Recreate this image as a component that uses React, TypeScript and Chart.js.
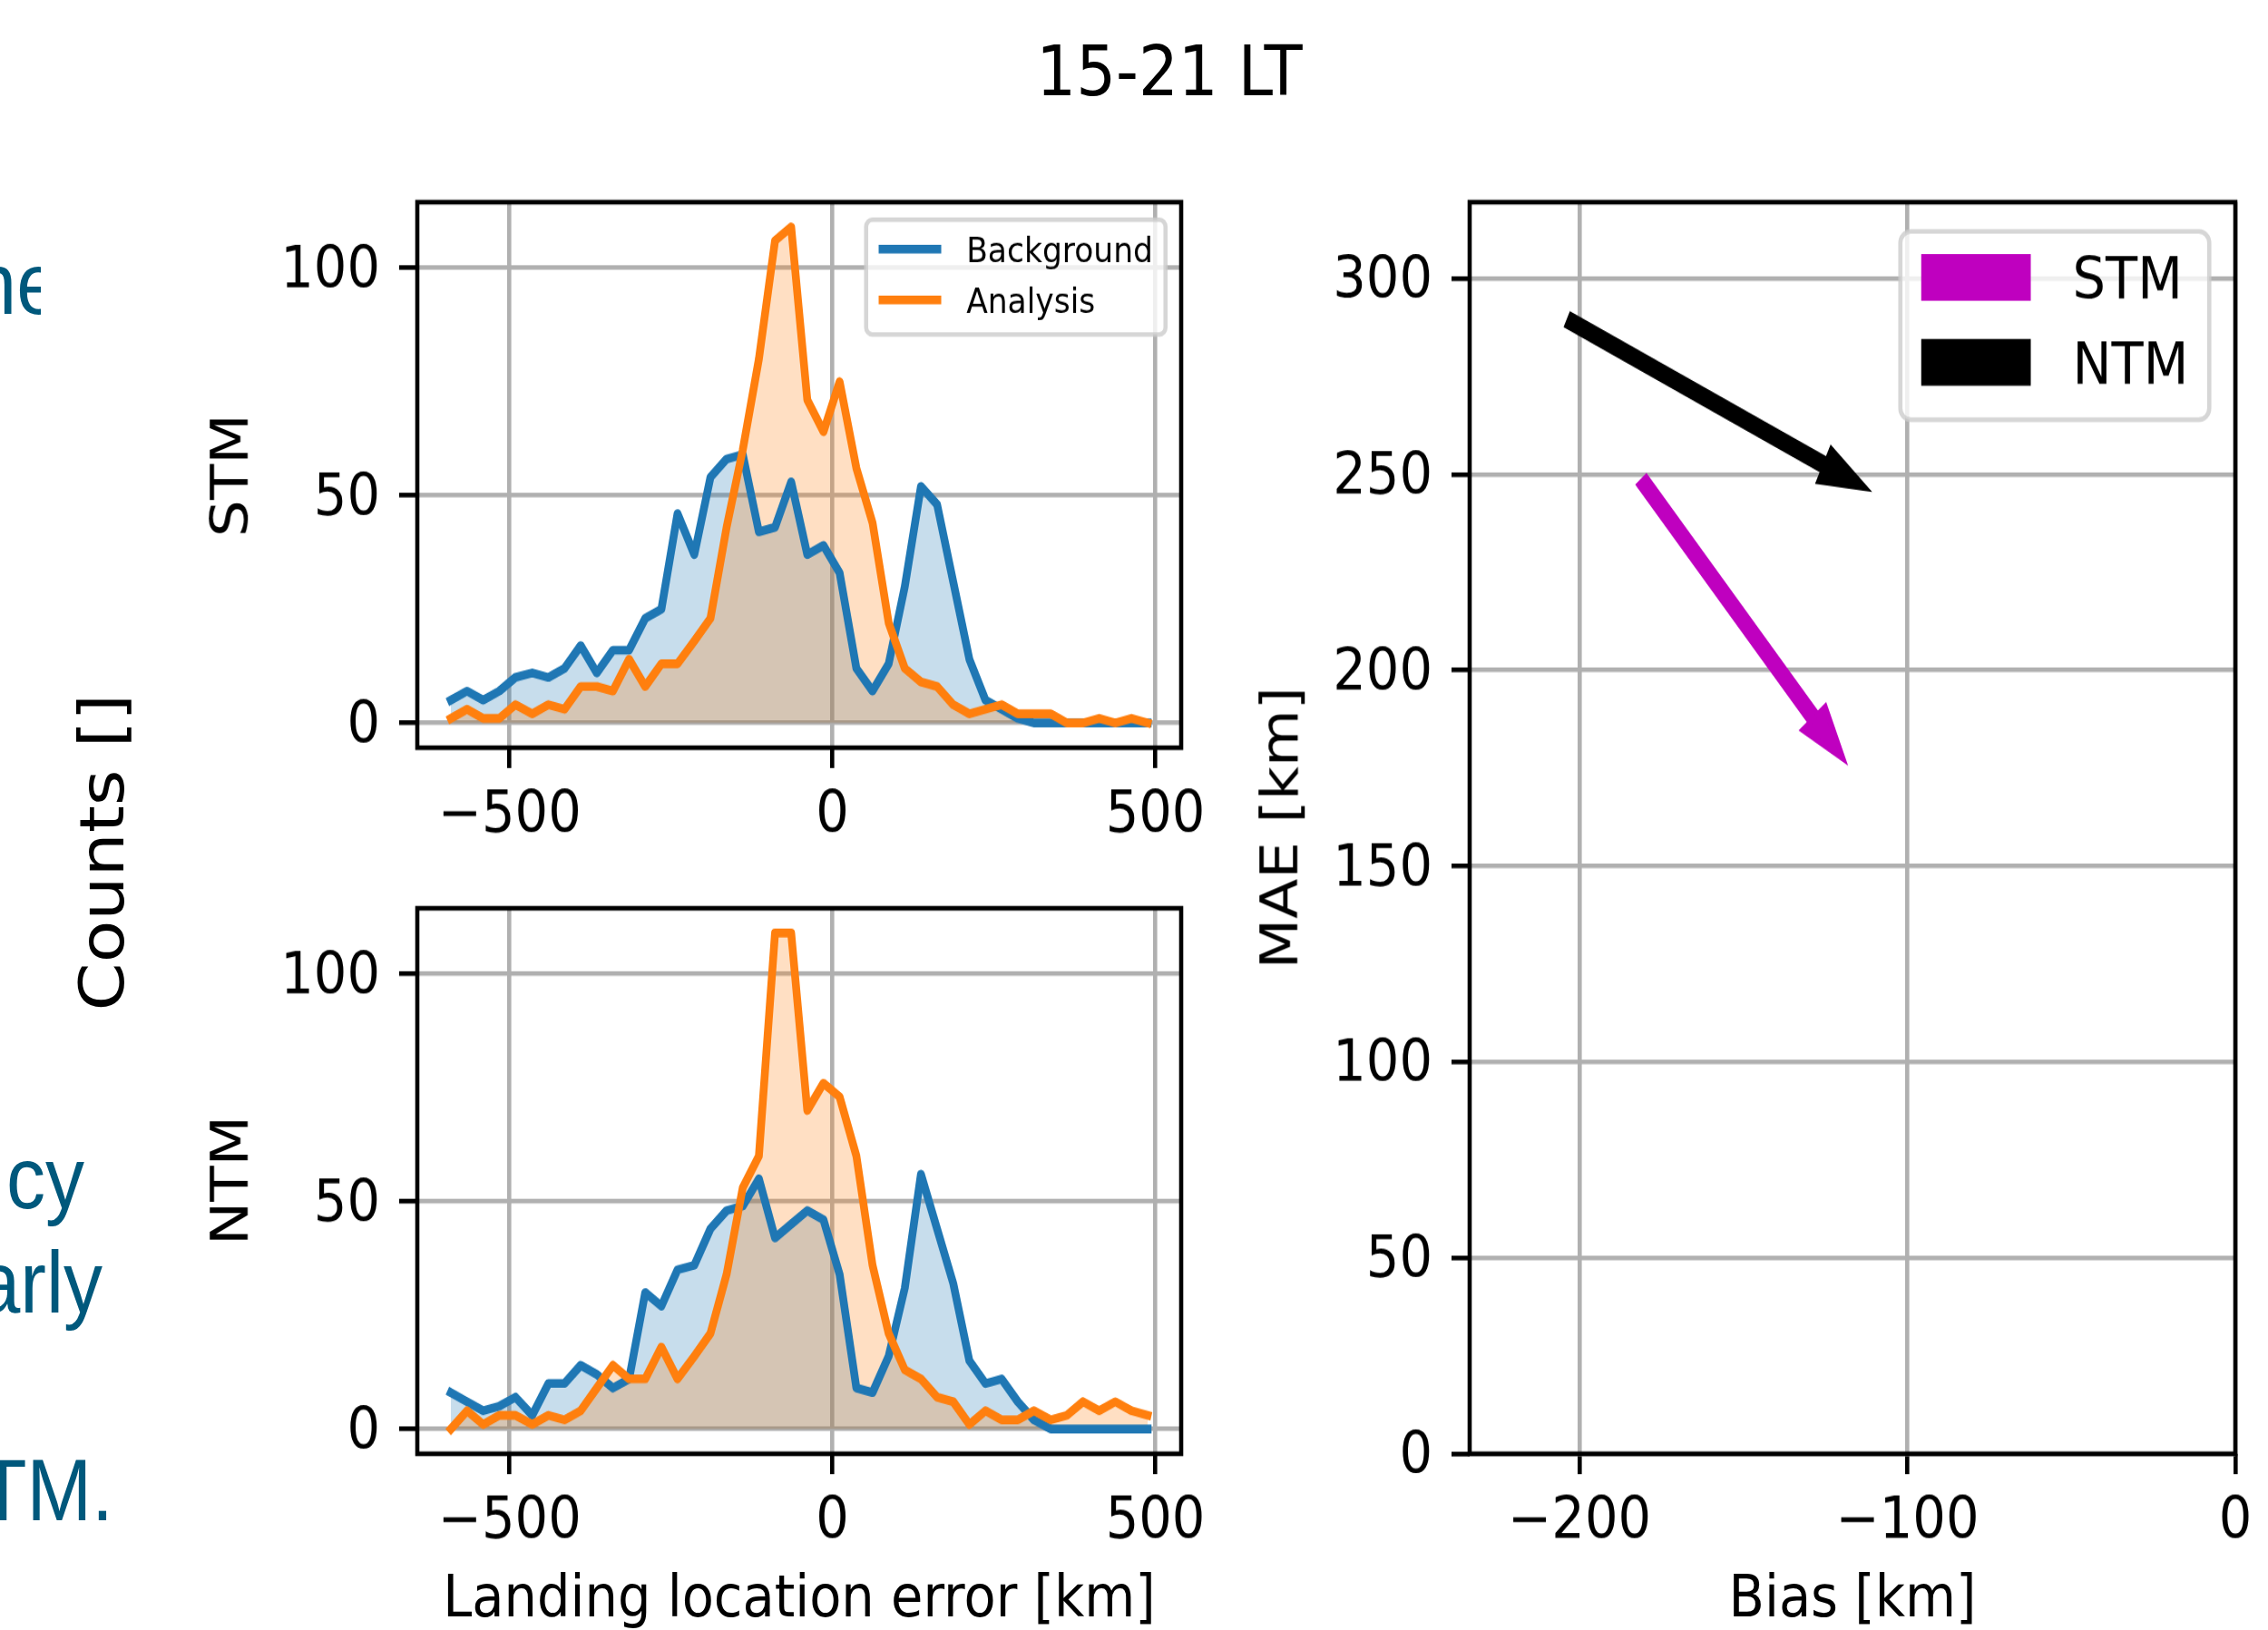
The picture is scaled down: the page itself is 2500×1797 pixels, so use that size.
import React, { useEffect, useRef } from 'react';
import { Chart, registerables } from 'chart.js';

Chart.register(...registerables);

// ---------------- data ----------------
const binCenters = [
  -591, -566, -541, -516, -491, -465, -440, -415, -390, -365, -340, -315, -290, -265, -240,
  -214, -189, -164, -139, -114, -89, -64, -39, -14, 11, 37, 62, 87, 112, 137, 162, 187,
  212, 237, 262, 287, 312, 338, 363, 388, 413, 438, 463, 488,
];
const stmBackground = [
  5, 7, 5, 7, 10, 11, 10, 12, 17, 11, 16, 16, 23, 25, 46, 37, 54, 58, 59, 42, 43, 53, 37, 39,
  33, 12, 7, 13, 30, 52, 48, 31, 14, 5, 3, 1, 0, 0, 0, 0, 0, 0, 0, 0,
];
const stmAnalysis = [
  1, 3, 1, 1, 4, 2, 4, 3, 8, 8, 7, 14, 8, 13, 13, 18, 23, 43, 60, 80, 106, 109, 71, 64, 75,
  56, 44, 22, 12, 9, 8, 4, 2, 3, 4, 2, 2, 2, 0, 0, 1, 0, 1, 0,
];
const ntmBackground = [
  8, 6, 4, 5, 7, 3, 10, 10, 14, 12, 9, 11, 30, 27, 35, 36, 44, 48, 49, 55, 42, 45, 48, 46, 34,
  9, 8, 16, 31, 56, 44, 32, 15, 10, 11, 6, 2, 0, 0, 0, 0, 0, 0, 0,
];
const ntmAnalysis = [
  0, 4, 1, 3, 3, 1, 3, 2, 4, 9, 14, 11, 11, 18, 11, 16, 21, 34, 53, 60, 109, 109, 70, 76, 73,
  60, 36, 21, 13, 11, 7, 6, 1, 4, 2, 2, 4, 2, 3, 6, 4, 6, 4, 3,
];
const histSeriesLabels = ['Background', 'Analysis'];
const histTicksX = [-500, 0, 500];
const histTicksY = [0, 50, 100];

const arrowGroups = ['STM', 'NTM'];
const arrowColors = ['#bf00bf', '#000000'];
const biasBackground = [-180.8, -203.2];
const maeBackground = [248.3, 289.3];
const biasAnalysis = [-128.5, -125.1];
const maeAnalysis = [187.7, 252.3];
const biasTicks = [-200, -100, 0];
const maeTicks = [0, 50, 100, 150, 200, 250, 300];

// ---------------- style ----------------
const S = 1.12; // vertical stretch of the whole figure
const FONT = "'DejaVu Sans'";
const FS = 57.5;
const LW = 4.6;
const GRID = '#b0b0b0';
const BLUE = '#1f77b4';
const ORANGE = '#ff7f0e';
const PAD_TOP = 60;

const fmt = (v: number) => (v < 0 ? '\u2212' + Math.abs(v) : String(v));

const framePlugin = {
  id: 'frame',
  afterDatasetsDraw(chart: any) {
    const { ctx, chartArea } = chart;
    const { left, top, right, bottom } = chartArea;
    ctx.save();
    ctx.strokeStyle = '#000';
    ctx.lineWidth = LW;
    ctx.lineJoin = 'miter';
    ctx.strokeRect(left, top, right - left, bottom - top);
    ctx.restore();
  },
};

function legendPlugin(kind: 'line' | 'patch', fs: number, rowOffsets: number[], boxH: number) {
  return {
    id: 'customLegend',
    afterDraw(chart: any) {
      const { ctx, chartArea } = chart;
      const ds = chart.data.datasets;
      ctx.save();
      ctx.font = `${fs}px ${FONT}`;
      const pad = 0.4 * fs;
      const handleLen = 2 * fs;
      const textPad = 0.8 * fs;
      const extra = kind === 'patch' ? 5.75 : 0;
      const textW = Math.max(...ds.map((d: any) => ctx.measureText(d.label).width));
      const w = 2 * pad + handleLen + extra + textPad + textW;
      const right = chartArea.right - 0.5 * fs;
      const top = chartArea.top + 0.5 * fs;
      const left = right - w;
      ctx.beginPath();
      (ctx as any).roundRect(left, top, w, boxH, 0.2 * fs);
      ctx.fillStyle = 'rgba(255,255,255,0.8)';
      ctx.fill();
      ctx.lineWidth = LW;
      ctx.strokeStyle = 'rgba(204,204,204,0.8)';
      ctx.stroke();
      ds.forEach((d: any, i: number) => {
        const cy = top + rowOffsets[i];
        const hx = left + pad;
        if (kind === 'line') {
          ctx.beginPath();
          ctx.moveTo(hx + 4.3, cy);
          ctx.lineTo(hx + handleLen - 4.3, cy);
          ctx.strokeStyle = d.borderColor;
          ctx.lineWidth = 8.6;
          ctx.lineCap = 'square';
          ctx.stroke();
        } else {
          ctx.fillStyle = d.backgroundColor;
          ctx.fillRect(hx, cy - 23, handleLen + extra, 46);
        }
        ctx.fillStyle = '#000';
        ctx.textBaseline = 'alphabetic';
        ctx.textAlign = 'left';
        ctx.fillText(d.label, hx + handleLen + extra + textPad, cy + 0.3645 * fs);
      });
      ctx.restore();
    },
  };
}

// matplotlib FancyArrow geometry in data space
function arrowPolygon(x: number, y: number, dx: number, dy: number, width: number) {
  const hw = 3 * width;
  const hl = 1.5 * hw;
  const dist = Math.hypot(dx, dy);
  const length = dist + hl;
  const leftHalf = [
    [0, 0],
    [-hl, -hw / 2],
    [-hl, -width / 2],
    [-length, -width / 2],
  ].map(([a, b]) => [a + hl, b]);
  const rightHalf = leftHalf.map(([a, b]) => [a, -b]);
  const coords = [...leftHalf, ...rightHalf.slice().reverse()];
  const cx = dx / dist;
  const sx = dy / dist;
  return coords.map(([a, b]) => [x + dx + a * cx - b * sx, y + dy + a * sx + b * cx]);
}

const arrowPlugin = {
  id: 'arrows',
  afterDatasetsDraw(chart: any) {
    const { ctx } = chart;
    const xs = chart.scales.x;
    const ys = chart.scales.y;
    ctx.save();
    chart.data.datasets.forEach((d: any) => {
      const [p0, p1] = d.data;
      const poly = arrowPolygon(p0.x, p0.y, p1.x - p0.x, p1.y - p0.y, 3);
      ctx.beginPath();
      poly.forEach(([px, py], i) => {
        const X = xs.getPixelForValue(px);
        const Y = ys.getPixelForValue(py);
        if (i === 0) ctx.moveTo(X, Y);
        else ctx.lineTo(X, Y);
      });
      ctx.closePath();
      ctx.fillStyle = d.backgroundColor;
      ctx.fill();
      ctx.lineWidth = 5.75;
      ctx.lineJoin = 'miter';
      ctx.strokeStyle = d.backgroundColor;
      ctx.stroke();
    });
    ctx.restore();
  },
};

function scaleOpts(ticks: number[], min: number, max: number, isX: boolean) {
  return {
    type: 'linear',
    min,
    max,
    afterBuildTicks: (s: any) => {
      s.ticks = ticks.map((v) => ({ value: v }));
    },
    afterFit: (s: any) => {
      if (isX) s.height = 120;
      else s.width = 200;
    },
    grid: {
      color: GRID,
      lineWidth: LW,
      tickColor: '#000',
      tickWidth: LW,
      tickLength: 20,
      drawTicks: true,
    },
    border: { display: false },
    ticks: {
      color: '#000',
      font: { family: FONT, size: FS },
      padding: isX ? 14 : 21,
      labelOffset: isX ? 0 : 4,
      maxRotation: 0,
      autoSkip: false,
      callback: (v: any) => fmt(Number(v)),
    },
  };
}

function histConfig(bg: number[], an: number[]) {
  const mk = (label: string, vals: number[], color: string, fillColor: string, order: number) => ({
    label,
    data: binCenters.map((x, i) => ({ x, y: vals[i] })),
    borderColor: color,
    backgroundColor: fillColor,
    borderWidth: 8.6,
    borderJoinStyle: 'round',
    borderCapStyle: 'square',
    pointRadius: 0,
    tension: 0,
    fill: 'origin',
    order,
  });
  return {
    type: 'line',
    data: {
      datasets: [
        mk(histSeriesLabels[0], bg, BLUE, 'rgba(31,119,180,0.25)', 1),
        mk(histSeriesLabels[1], an, ORANGE, 'rgba(255,127,14,0.25)', 0),
      ],
    },
    options: {
      responsive: false,
      animation: false,
      devicePixelRatio: 1,
      layout: { padding: { left: 0, top: PAD_TOP, right: 60, bottom: 0 } },
      plugins: {
        legend: { display: false },
        tooltip: { enabled: false },
        filler: { drawTime: 'beforeDatasetsDraw' },
      },
      scales: {
        x: scaleOpts(histTicksX, -643, 540, true),
        y: scaleOpts(histTicksY, -5.45, 114.45, false),
      },
    },
  };
}

function arrowConfig() {
  return {
    type: 'scatter',
    data: {
      datasets: arrowGroups.map((g, i) => ({
        label: g,
        data: [
          { x: biasBackground[i], y: maeBackground[i] },
          { x: biasAnalysis[i], y: maeAnalysis[i] },
        ],
        backgroundColor: arrowColors[i],
        borderColor: arrowColors[i],
        pointRadius: 0,
        showLine: false,
      })),
    },
    options: {
      responsive: false,
      animation: false,
      devicePixelRatio: 1,
      layout: { padding: { left: 0, top: PAD_TOP, right: 36, bottom: 0 } },
      plugins: { legend: { display: false }, tooltip: { enabled: false } },
      scales: {
        x: scaleOpts(biasTicks, -233.5, 0, true),
        y: scaleOpts(maeTicks, 0, 319.5, false),
      },
    },
  };
}

const abs = (o: any): React.CSSProperties => ({ position: 'absolute', whiteSpace: 'nowrap', lineHeight: 1, margin: 0, ...o });

export default function App() {
  const r1 = useRef<HTMLCanvasElement>(null);
  const r2 = useRef<HTMLCanvasElement>(null);
  const r3 = useRef<HTMLCanvasElement>(null);

  useEffect(() => {
    const c1 = new Chart(r1.current as any, {
      ...(histConfig(stmBackground, stmAnalysis) as any),
      plugins: [framePlugin, legendPlugin('line', 34.5, [29, 79], 113)],
    });
    const c2 = new Chart(r2.current as any, {
      ...(histConfig(ntmBackground, ntmAnalysis) as any),
      plugins: [framePlugin],
    });
    const c3 = new Chart(r3.current as any, {
      ...(arrowConfig() as any),
      plugins: [arrowPlugin, framePlugin, legendPlugin('patch', FS, [45.3, 128.9], 185.4)],
    });
    return () => {
      c1.destroy();
      c2.destroy();
      c3.destroy();
    };
  }, []);

  const slide = { fontFamily: "'Liberation Sans', Arial, sans-serif", fontSize: 86, color: '#00587c' };
  const chartText = { fontFamily: FONT, color: '#000' };

  // chart-area tops (unstretched px): 199 (upper row), 894 (lower histogram); bottoms 736 / 1431
  const t1 = 199 - PAD_TOP;
  const t2 = 894 - PAD_TOP;
  const h1 = 736 + 120 - t1;
  const h2 = 1431 + 120 - t2;
  const h3 = 1431 + 120 - t1;

  return (
    <div
      style={{
        position: 'absolute',
        left: 0,
        top: 0,
        width: 2500,
        height: 1797 / S,
        transform: `scaleY(${S})`,
        transformOrigin: '0 0',
        background: '#fff',
        overflow: 'hidden',
      }}
    >
      {/* slide text fragments behind the figure */}
      <div style={abs({ left: 0, top: 308.5 - 72.8, width: 45, height: 100, overflow: 'hidden' })}>
        <span style={abs({ ...slide, right: -21, top: 0 })}>ne</span>
      </div>
      <span style={abs({ ...slide, right: 2500 - 93, top: 1189 - 72.8 })}>cy</span>
      <span style={abs({ ...slide, right: 2500 - 113, top: 1292 - 72.8 })}>arly</span>
      <span style={abs({ ...slide, right: 2500 - 125, top: 1495.5 - 72.8 })}>TM.</span>

      <canvas ref={r1} width={1102} height={h1} style={{ position: 'absolute', left: 260, top: t1, width: 1102, height: h1 }} />
      <canvas ref={r2} width={1102} height={h2} style={{ position: 'absolute', left: 260, top: t2, width: 1102, height: h2 }} />
      <canvas ref={r3} width={1080} height={h3} style={{ position: 'absolute', left: 1420, top: t1, width: 1080, height: h3 }} />

      <div style={abs({ ...chartText, fontSize: 69, left: 1289, top: 94.6 - 0.846 * 69, transform: 'translateX(-50%)' })}>15-21 LT</div>
      <div style={abs({ ...chartText, fontSize: FS, left: 881, top: 1592 - 0.846 * FS, transform: 'translateX(-50%)' })}>
        Landing location error [km]
      </div>
      <div style={abs({ ...chartText, fontSize: FS, left: 2042, top: 1592 - 0.846 * FS, transform: 'translateX(-50%)' })}>Bias [km]</div>
      <div style={abs({ ...chartText, fontSize: FS, left: 254, top: 467.6, transform: 'translate(-50%,-50%) rotate(-90deg)' })}>STM</div>
      <div style={abs({ ...chartText, fontSize: FS, left: 254, top: 1162.1, transform: 'translate(-50%,-50%) rotate(-90deg)' })}>NTM</div>
      <div style={abs({ ...chartText, fontSize: FS, left: 1411, top: 814.8, transform: 'translate(-50%,-50%) rotate(-90deg)' })}>MAE [km]</div>
      <div style={abs({ ...chartText, fontSize: 68, left: 112.5, top: 839, transform: 'translate(-50%,-50%) rotate(-90deg)' })}>Counts []</div>
    </div>
  );
}
